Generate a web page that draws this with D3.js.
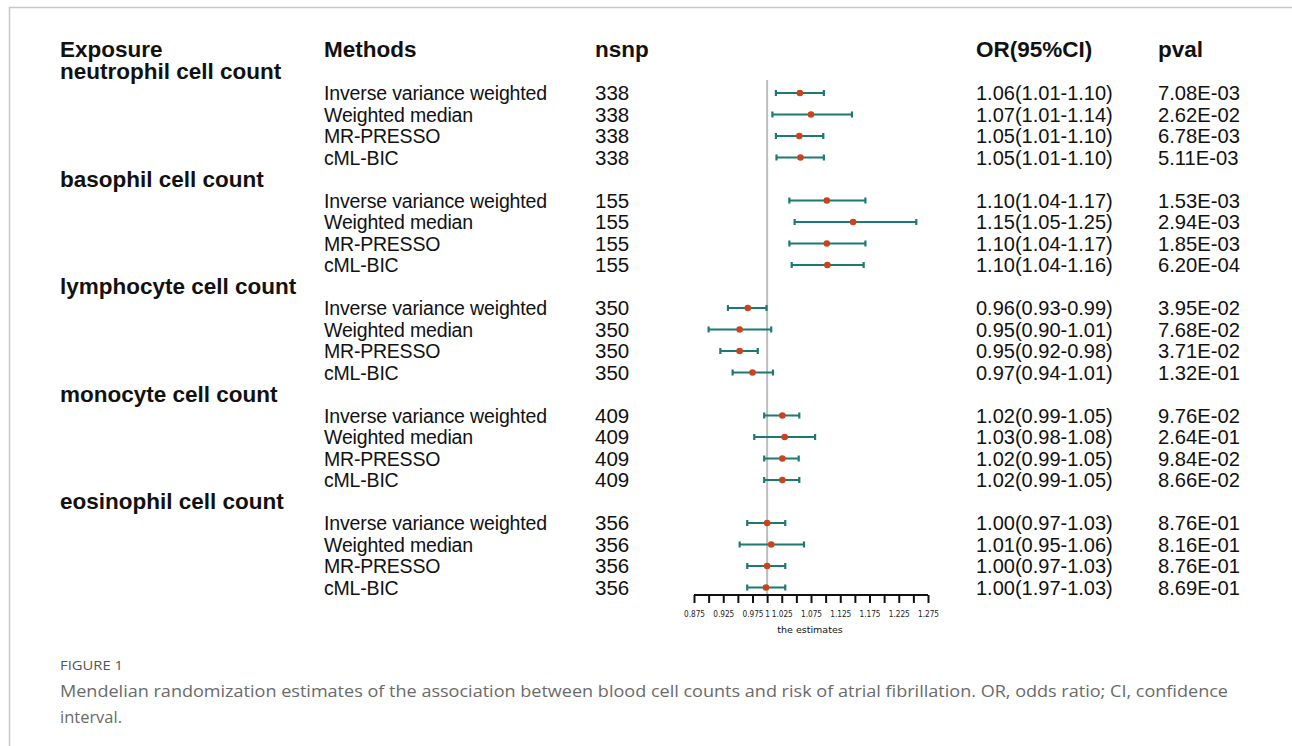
<!DOCTYPE html>
<html>
<head>
<meta charset="utf-8">
<script src="https://cdn.jsdelivr.net/npm/d3@7"></script>
<style>
  html, body { margin: 0; padding: 0; background: #fff; }
  svg { display: block; }
</style>
</head>
<body>
<div id="chart"></div>
<script>
// exposures and methods
const exposures = ["neutrophil cell count", "basophil cell count", "lymphocyte cell count", "monocyte cell count", "eosinophil cell count"];
const methods = ["Inverse variance weighted", "Weighted median", "MR-PRESSO", "cML-BIC"];
const nsnp = [338, 155, 350, 409, 356];

// estimates per row (exposure x method), in order
const estimate = [1.056, 1.075, 1.055, 1.057, 1.102, 1.147, 1.102, 1.103, 0.967, 0.953, 0.953, 0.975, 1.026, 1.030, 1.026, 1.026, 1.000, 1.007, 1.000, 0.998];
const ciLow    = [1.015, 1.009, 1.015, 1.016, 1.038, 1.047, 1.038, 1.042, 0.933, 0.900, 0.920, 0.941, 0.995, 0.978, 0.995, 0.995, 0.966, 0.953, 0.966, 0.966];
const ciHigh   = [1.097, 1.145, 1.096, 1.097, 1.168, 1.255, 1.168, 1.165, 0.999, 1.007, 0.984, 1.010, 1.055, 1.082, 1.054, 1.055, 1.031, 1.063, 1.031, 1.031];
const orText = ["1.06(1.01-1.10)", "1.07(1.01-1.14)", "1.05(1.01-1.10)", "1.05(1.01-1.10)",
                "1.10(1.04-1.17)", "1.15(1.05-1.25)", "1.10(1.04-1.17)", "1.10(1.04-1.16)",
                "0.96(0.93-0.99)", "0.95(0.90-1.01)", "0.95(0.92-0.98)", "0.97(0.94-1.01)",
                "1.02(0.99-1.05)", "1.03(0.98-1.08)", "1.02(0.99-1.05)", "1.02(0.99-1.05)",
                "1.00(0.97-1.03)", "1.01(0.95-1.06)", "1.00(0.97-1.03)", "1.00(1.97-1.03)"];
const pvalText = ["7.08E-03", "2.62E-02", "6.78E-03", "5.11E-03",
                  "1.53E-03", "2.94E-03", "1.85E-03", "6.20E-04",
                  "3.95E-02", "7.68E-02", "3.71E-02", "1.32E-01",
                  "9.76E-02", "2.64E-01", "9.84E-02", "8.66E-02",
                  "8.76E-01", "8.16E-01", "8.76E-01", "8.69E-01"];

const tickValues = d3.range(0, 17).map(i => +(0.875 + i * 0.025).toFixed(3));
const tickLabels = ["0.875", "0.925", "0.975", "1", "1.025", "1.075", "1.125", "1.175", "1.225", "1.275"];

const captionTitle = "FIGURE 1";
const captionLines = ["Mendelian randomization estimates of the association between blood cell counts and risk of atrial fibrillation. OR, odds ratio; CI, confidence",
                      "interval."];

const W = 1292, H = 746;
const svg = d3.select("#chart").append("svg").attr("width", W).attr("height", H);

// figure frame
svg.append("path").attr("d", `M9.5,${H} V7.5 H${W}`).attr("fill", "none").attr("stroke", "#c8c8c8").attr("stroke-width", 1.5);

// build rows: header then methods
const rows = [];
exposures.forEach((e, gi) => {
  rows.push({ type: "group", label: e });
  methods.forEach((m, mi) => {
    const k = gi * methods.length + mi;
    rows.push({ type: "row", method: m, nsnp: nsnp[gi], est: estimate[k], lo: ciLow[k], hi: ciHigh[k], or: orText[k], p: pvalText[k] });
  });
});

const y = d3.scaleLinear().domain([0, rows.length - 1]).range([71.5, 587.5]);
const x = d3.scaleLinear().domain([0.875, 1.275]).range([694, 928]);

const font = "'Liberation Sans', Arial, sans-serif";
const col = { exposure: 60, method: 324, nsnp: 595, or: 976, p: 1158 };

// column headers
const headers = [["Exposure", col.exposure], ["Methods", col.method], ["nsnp", col.nsnp], ["OR(95%CI)", col.or], ["pval", col.p]];
svg.append("g").selectAll("text").data(headers).join("text")
  .attr("x", d => d[1]).attr("y", y(-1) - 1).attr("dy", "0.35em")
  .attr("font-family", font).attr("font-weight", "bold").attr("font-size", 22.5).attr("fill", "#111")
  .text(d => d[0]);

// reference line at 1
svg.append("line").attr("x1", x(1)).attr("x2", x(1)).attr("y1", 80).attr("y2", 595)
  .attr("stroke", "#bdbdbd").attr("stroke-width", 2);

const g = svg.append("g").selectAll("g").data(rows).join("g").attr("transform", (d, i) => `translate(0,${y(i)})`);

g.filter(d => d.type === "group").append("text")
  .attr("x", col.exposure).attr("dy", "0.35em")
  .attr("font-family", font).attr("font-weight", "bold").attr("font-size", 22.5).attr("fill", "#111")
  .text(d => d.label);

const r = g.filter(d => d.type === "row");
const txt = (sel, key, xx, fs) => sel.append("text").attr("x", xx).attr("dy", "0.36em")
  .attr("font-family", font).attr("font-size", fs).attr("fill", "#111").text(d => d[key]);
txt(r, "method", col.method, 19.5).attr("textLength", function() { return this.getComputedTextLength() * 0.985; });
txt(r, "nsnp", col.nsnp, 20.5);
txt(r, "or", col.or, 20);
txt(r, "p", col.p, 20.2);

const teal = "#1c7a72";
r.append("line").attr("x1", d => x(d.lo)).attr("x2", d => x(d.hi)).attr("stroke", teal).attr("stroke-width", 2.2);
r.append("line").attr("x1", d => x(d.lo)).attr("x2", d => x(d.lo)).attr("y1", -3).attr("y2", 3).attr("stroke", teal).attr("stroke-width", 2.2);
r.append("line").attr("x1", d => x(d.hi)).attr("x2", d => x(d.hi)).attr("y1", -3).attr("y2", 3).attr("stroke", teal).attr("stroke-width", 2.2);
r.append("circle").attr("cx", d => x(d.est)).attr("r", 3.3).attr("fill", "#c9431c");

// axis
const axis = d3.axisBottom(x).tickValues(tickValues).tickSize(8).tickSizeOuter(0)
  .tickFormat(d => tickLabels.includes(String(d)) ? String(d) : "");
const ax = svg.append("g").attr("transform", "translate(0,595)").call(axis);
ax.select(".domain").attr("stroke", "#111").attr("stroke-width", 2).attr("d", `M${x(0.875)},0H${x(1.275)}`);
ax.selectAll(".tick line").attr("stroke", "#111").attr("stroke-width", 2);
ax.selectAll(".tick text").attr("font-family", "'DejaVu Sans Condensed', 'DejaVu Sans', sans-serif")
  .attr("font-size", 8.2).attr("fill", "#222").attr("y", 16);
svg.append("text").attr("x", 810).attr("y", 633).attr("text-anchor", "middle")
  .attr("font-family", "'DejaVu Sans', sans-serif").attr("font-size", 9.5).attr("fill", "#111")
  .text("the estimates");

// caption
svg.append("text").attr("x", 60).attr("y", 670)
  .attr("font-family", "'Open Sans', sans-serif").attr("font-size", 13).attr("fill", "#555")
  .attr("textLength", 63).attr("lengthAdjust", "spacingAndGlyphs")
  .text(captionTitle);
svg.append("g").selectAll("text").data(captionLines).join("text")
  .attr("x", 60).attr("y", (d, i) => 697 + i * 26)
  .attr("font-family", "'Open Sans', sans-serif").attr("font-size", 17).attr("fill", "#6a6a6a")
  .attr("textLength", (d, i) => i === 0 ? 1168 : 62).attr("lengthAdjust", "spacingAndGlyphs")
  .text(d => d);
</script>
</body>
</html>
